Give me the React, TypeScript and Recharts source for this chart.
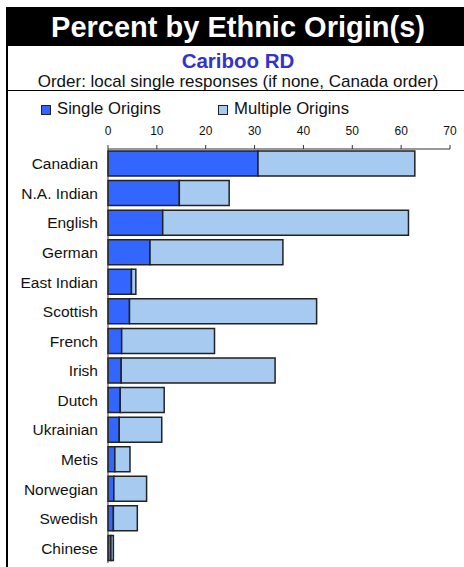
import React from "react";
import { BarChart, Bar, XAxis, YAxis, Legend } from "recharts";

// Values (percent of population).
const origins = [
  "Canadian",
  "N.A. Indian",
  "English",
  "German",
  "East Indian",
  "Scottish",
  "French",
  "Irish",
  "Dutch",
  "Ukrainian",
  "Metis",
  "Norwegian",
  "Swedish",
  "Chinese",
];
const singleOrigins = [30.7, 14.6, 11.2, 8.6, 4.8, 4.4, 2.8, 2.7, 2.5, 2.3, 1.4, 1.2, 1.1, 0.6];
const multipleOrigins = [32.1, 10.2, 50.3, 27.2, 0.9, 38.3, 19.0, 31.5, 9.0, 8.7, 3.1, 6.7, 4.9, 0.5];
const xTicks = [0, 10, 20, 30, 40, 50, 60, 70];

const SINGLE = "#3366ff";
const MULTIPLE = "#a6caf0";
const FONT = '"Liberation Sans", Arial, sans-serif';

const data = origins.map((name, i) => ({
  name,
  single: singleOrigins[i],
  multiple: multipleOrigins[i],
}));

function LegendBox() {
  const items = [
    { label: "Single Origins", color: SINGLE, x: 41, tx: 57 },
    { label: "Multiple Origins", color: MULTIPLE, x: 218, tx: 234 },
  ];
  return (
    <div style={{ position: "relative", width: 464, height: 24 }}>
      {items.map((it) => (
        <React.Fragment key={it.label}>
          <div
            style={{
              position: "absolute",
              left: it.x,
              top: 7,
              width: 8,
              height: 8,
              background: it.color,
              border: "1.5px solid #222",
            }}
          />
          <div
            style={{
              position: "absolute",
              left: it.tx,
              top: 3,
              fontSize: 16.7,
              lineHeight: "16.7px",
              color: "#111",
              whiteSpace: "nowrap",
            }}
          >
            {it.label}
          </div>
        </React.Fragment>
      ))}
    </div>
  );
}

export default function App() {
  return (
    <div
      style={{
        position: "absolute",
        left: 0,
        top: 0,
        width: 464,
        height: 567,
        overflow: "hidden",
        background: "#fff",
        fontFamily: FONT,
      }}
    >
      {/* frame */}
      <div style={{ position: "absolute", left: 6, top: 7, width: 464, height: 39, background: "#000" }} />
      <div style={{ position: "absolute", left: 6, top: 46, width: 2, height: 521, background: "#000" }} />
      <div style={{ position: "absolute", left: 6, top: 90, width: 464, height: 1, background: "#000" }} />

      <div
        style={{
          position: "absolute",
          left: 6,
          top: 12.5,
          width: 464,
          textAlign: "center",
          color: "#fff",
          fontWeight: "bold",
          fontSize: 29,
          lineHeight: "29px",
        }}
      >
        Percent by Ethnic Origin(s)
      </div>
      <div
        style={{
          position: "absolute",
          left: 6,
          top: 51,
          width: 464,
          textAlign: "center",
          color: "#3333cc",
          fontWeight: "bold",
          fontSize: 20.5,
          lineHeight: "20.5px",
        }}
      >
        Cariboo RD
      </div>
      <div
        style={{
          position: "absolute",
          left: 6,
          top: 73,
          width: 464,
          textAlign: "center",
          color: "#111",
          fontSize: 17,
          lineHeight: "17px",
          whiteSpace: "nowrap",
        }}
      >
        Order: local single responses (if none, Canada order)
      </div>

      <div style={{ position: "absolute", left: 0, top: 0 }}>
        <BarChart
          width={464}
          height={567}
          data={data}
          layout="vertical"
          margin={{ top: 119, right: 14, bottom: 4, left: 8 }}
          barSize={25}
        >
          <XAxis
            type="number"
            orientation="top"
            domain={[0, 70]}
            ticks={xTicks}
            height={30}
            tickSize={4}
            tickMargin={10}
            stroke="#333"
            tick={{ fontSize: 12, fill: "#111", fontFamily: FONT }}
          />
          <YAxis
            type="category"
            dataKey="name"
            width={100}
            tickLine={false}
            tickMargin={4}
            stroke="#333"
            interval={0}
            tick={{ fontSize: 15.5, fill: "#111", fontFamily: FONT }}
          />
          <Legend
            layout="horizontal"
            verticalAlign="middle"
            align="center"
            wrapperStyle={{ left: 0, top: 98, width: 464, height: 24 }}
            content={() => <LegendBox />}
          />
          <Bar
            dataKey="single"
            name="Single Origins"
            stackId="a"
            fill={SINGLE}
            stroke="#222"
            strokeWidth={1.5}
            isAnimationActive={false}
          />
          <Bar
            dataKey="multiple"
            name="Multiple Origins"
            stackId="a"
            fill={MULTIPLE}
            stroke="#222"
            strokeWidth={1.5}
            isAnimationActive={false}
          />
        </BarChart>
      </div>
    </div>
  );
}
